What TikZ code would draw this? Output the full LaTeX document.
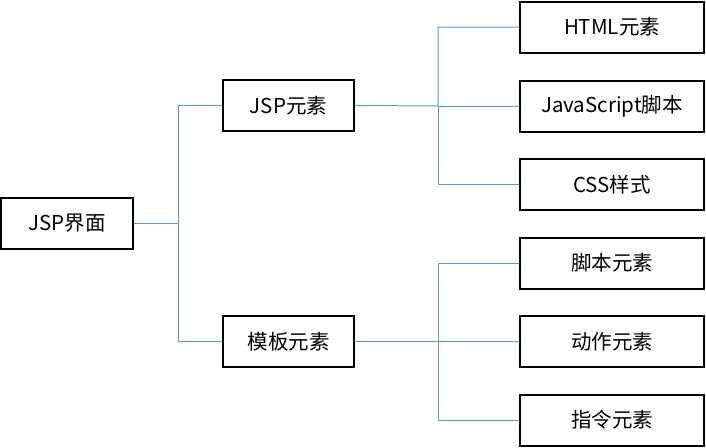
\documentclass[tikz,border=0pt]{standalone}
\usepackage{fontspec}
\setmainfont{Noto Sans CJK SC}
\begin{document}
\begin{tikzpicture}[x=1pt,y=-1pt,
  box/.style={draw=black,line width=2pt,inner sep=0pt,font=\fontsize{20.5}{22}\selectfont},
  lbox/.style={box,minimum width=131pt,minimum height=51pt},
  rbox/.style={box,minimum width=184pt,minimum height=51pt},
  link/.style={draw={rgb,255:red,91;green,155;blue,213},line width=1pt}]
\useasboundingbox (0,0) rectangle (706,447);
\node[box,minimum width=132pt,minimum height=51pt] (root) at (67,223) {JSP界面};
\node[lbox] (jsp) at (288.5,105.5) {JSP元素};
\node[lbox] (tpl) at (288.5,341.5) {模板元素};
\node[rbox] (html) at (612,27) {HTML元素};
\node[rbox] (js) at (612,106) {JavaScript脚本};
\node[rbox] (css) at (612,184.5) {CSS样式};
\node[rbox] (scr) at (612,263) {脚本元素};
\node[rbox] (act) at (612,341.5) {动作元素};
\node[rbox] (dir) at (612,420) {指令元素};
\coordinate (b0) at (178,223);
\coordinate (b1) at (438,106);
\coordinate (b2) at (438,341.5);
\draw[link] (root.east) -- (b0) |- (jsp.west);
\draw[link] (b0) |- (tpl.west);
\draw[link] (jsp.east) -- (b1) |- (html.west);
\draw[link] (b1) -- (js.west);
\draw[link] (b1) |- (css.west);
\draw[link] (tpl.east) -- (b2) |- (scr.west);
\draw[link] (b2) -- (act.west);
\draw[link] (b2) |- (dir.west);
\end{tikzpicture}
\end{document}
